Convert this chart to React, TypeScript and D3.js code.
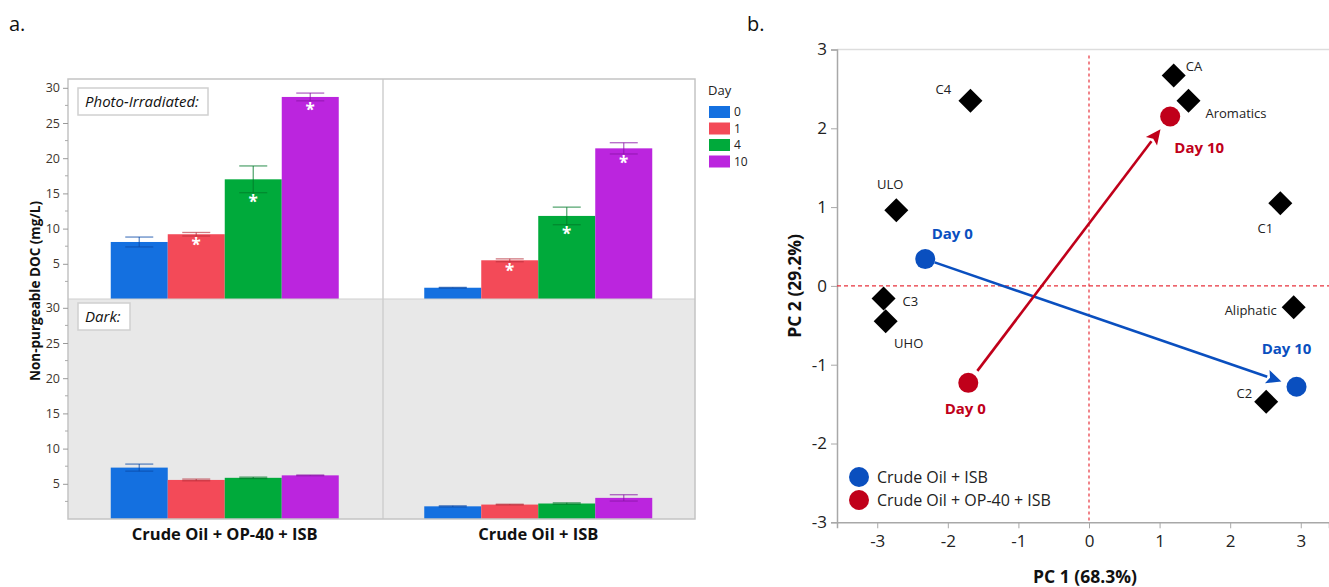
import React, { useEffect, useRef } from 'react';
import * as d3 from 'd3';

// panel a: bar chart data
const categories = ['Crude Oil + OP-40 + ISB', 'Crude Oil + ISB'];
const days = ['0', '1', '4', '10'];
const lightMeanOP40 = [8.1, 9.2, 17.0, 28.7];
const lightMeanISB = [1.6, 5.5, 11.8, 21.4];
const lightErrOP40 = [0.7, 0.25, 1.9, 0.55];
const lightErrISB = [0.05, 0.2, 1.25, 0.8];
const darkMeanOP40 = [7.3, 5.55, 5.85, 6.2];
const darkMeanISB = [1.8, 2.05, 2.2, 3.0];
const darkErrOP40 = [0.5, 0.12, 0.1, 0.05];
const darkErrISB = [0.08, 0.05, 0.1, 0.45];
const lightSignificant = [false, true, true, true];
const yTicksBar = [5, 10, 15, 20, 25, 30];

// panel b: PCA data
const loadingNames = ['C4', 'ULO', 'C3', 'UHO', 'CA', 'Aromatics', 'C1', 'Aliphatic', 'C2'];
const loadingPC1 = [-1.68, -2.73, -2.91, -2.88, 1.2, 1.41, 2.71, 2.9, 2.51];
const loadingPC2 = [2.35, 0.96, -0.16, -0.45, 2.67, 2.35, 1.05, -0.27, -1.47];
const treatments = ['Crude Oil + ISB', 'Crude Oil + OP-40 + ISB'];
const day0PC1 = [-2.32, -1.71];
const day0PC2 = [0.34, -1.23];
const day10PC1 = [2.94, 1.15];
const day10PC2 = [-1.28, 2.15];
const pcaTicks = [-3, -2, -1, 0, 1, 2, 3];

const dayColors = ['#1470e0', '#f34a58', '#00aa3b', '#bb25de'];
const dayDark = ['#0b4aa8', '#b8303c', '#007a2a', '#8a14a8'];
const treatColors = ['#0a4fbf', '#c0001a'];
const FONT = '"Open Sans", "Noto Sans", sans-serif';

// label offsets for the loadings [dx, dy, anchor]
const loadLabelPos: [number, number, string][] = [
  [-27, -11, 'middle'], [-6, -26, 'middle'], [19, 3, 'start'], [23, 22, 'middle'],
  [12, -9, 'start'], [17, 13, 'start'], [-15, 25, 'middle'], [-17, 3, 'end'], [-14, -8, 'end'],
];
const dayLabelPos = [[[27, -25], [-10, -38]], [[-3, 26], [29, 31]]];

export default function App() {
  const ref = useRef<SVGSVGElement>(null);

  useEffect(() => {
    const svg = d3.select(ref.current);
    svg.selectAll('*').remove();
    svg.style('font-family', FONT);

    svg.append('text').attr('x', 9).attr('y', 31).attr('font-size', 20).attr('fill', '#111').text('a.');
    svg.append('text').attr('x', 747).attr('y', 31).attr('font-size', 20).attr('fill', '#111').text('b.');

    /* ---------- panel a ---------- */
    const left = 68, right = 695, top = 79, mid = 299, bottom = 519;
    const x0 = d3.scaleBand().domain(categories).range([left, right]);
    const x1 = d3.scaleBand().domain(days).range([0, x0.bandwidth()]).paddingInner(0).paddingOuter(0.75);
    const yTop = d3.scaleLinear().domain([0, 31.25]).range([mid, top]);
    const yBot = d3.scaleLinear().domain([0, 31.25]).range([bottom, mid]);

    const ga = svg.append('g');
    ga.append('rect').attr('x', left).attr('y', top).attr('width', right - left).attr('height', mid - top).attr('fill', '#fff');
    ga.append('rect').attr('x', left).attr('y', mid).attr('width', right - left).attr('height', bottom - mid).attr('fill', '#e8e8e8');

    const panels = [
      { y: yTop, means: [lightMeanOP40, lightMeanISB], errs: [lightErrOP40, lightErrISB], sig: true },
      { y: yBot, means: [darkMeanOP40, darkMeanISB], errs: [darkErrOP40, darkErrISB], sig: false },
    ];

    panels.forEach((p) => {
      categories.forEach((c, ci) => {
        days.forEach((d, di) => {
          const v = p.means[ci][di];
          const e = p.errs[ci][di];
          const bx = (x0(c) as number) + (x1(d) as number);
          const bw = x1.bandwidth();
          ga.append('rect').attr('x', bx).attr('y', p.y(v)).attr('width', bw)
            .attr('height', p.y(0) - p.y(v)).attr('fill', dayColors[di]);
          const cx = bx + bw / 2;
          const eb = ga.append('g').attr('stroke', dayDark[di]).attr('stroke-opacity', 0.65).attr('stroke-width', 1.3);
          eb.append('line').attr('x1', cx).attr('x2', cx).attr('y1', p.y(v - e)).attr('y2', p.y(v + e));
          [v - e, v + e].forEach((t) => {
            eb.append('line').attr('x1', cx - 14).attr('x2', cx + 14).attr('y1', p.y(t)).attr('y2', p.y(t));
          });
          if (p.sig && lightSignificant[di]) {
            ga.append('text').attr('x', cx).attr('y', p.y(v - e) + 15).attr('text-anchor', 'middle')
              .attr('font-size', 17).attr('font-weight', 'bold').attr('fill', '#fff').text('*');
          }
        });
      });
    });

    // frames
    ga.append('line').attr('x1', 383).attr('x2', 383).attr('y1', top).attr('y2', bottom).attr('stroke', '#cfcfcf').attr('stroke-width', 1.5);
    ga.append('line').attr('x1', left).attr('x2', right).attr('y1', mid).attr('y2', mid).attr('stroke', '#cfcfcf').attr('stroke-width', 1);
    ga.append('rect').attr('x', left).attr('y', top).attr('width', right - left).attr('height', bottom - top)
      .attr('fill', 'none').attr('stroke', '#c4c4c4').attr('stroke-width', 1.5);

    // label boxes
    [[top + 9, 'Photo-Irradiated:', 130], [mid + 4, 'Dark:', 52]].forEach(([yy, txt, w]) => {
      ga.append('rect').attr('x', 78).attr('y', yy as number).attr('width', w as number).attr('height', 27)
        .attr('fill', '#fff').attr('stroke', '#d0d0d0').attr('stroke-width', 1.5);
      ga.append('text').attr('x', 85).attr('y', (yy as number) + 19).attr('font-size', 15).attr('font-style', 'italic')
        .attr('fill', '#111').text(txt as string);
    });

    // y axes
    [yTop, yBot].forEach((ys) => {
      const ax = ga.append('g').attr('transform', `translate(${left},0)`)
        .call(d3.axisLeft(ys).tickValues(yTicksBar).tickSize(5).tickPadding(3));
      ax.select('.domain').remove();
      ax.selectAll('line').attr('stroke', '#999');
      ax.selectAll('text').attr('font-size', 12.5).attr('fill', '#40352c').attr('font-family', FONT);
      const minor = d3.range(2.5, 31, 2.5).filter((t) => t % 5 !== 0);
      minor.forEach((t) => {
        ga.append('line').attr('x1', left - 3).attr('x2', left).attr('y1', ys(t)).attr('y2', ys(t)).attr('stroke', '#aaa');
      });
    });

    ga.append('text').attr('transform', `translate(40,291) rotate(-90)`).attr('text-anchor', 'middle')
      .attr('font-size', 13.5).attr('font-weight', 'bold').attr('fill', '#111').text('Non-purgeable DOC (mg/L)');

    categories.forEach((c) => {
      ga.append('text').attr('x', (x0(c) as number) + x0.bandwidth() / 2).attr('y', 540).attr('text-anchor', 'middle')
        .attr('font-size', 16.5).attr('font-weight', 'bold').attr('fill', '#111').text(c);
    });

    // legend
    ga.append('text').attr('x', 708).attr('y', 95).attr('font-size', 13).attr('fill', '#222').text('Day');
    days.forEach((d, i) => {
      const yy = 106 + i * 16.5;
      ga.append('rect').attr('x', 709).attr('y', yy).attr('width', 21).attr('height', 12).attr('fill', dayColors[i]);
      ga.append('text').attr('x', 734).attr('y', yy + 6).attr('dy', '0.36em').attr('font-size', 12).attr('fill', '#222').text(d);
    });

    /* ---------- panel b ---------- */
    const px = d3.scaleLinear().domain([-3.57, 3.4]).range([837, 1329]);
    const py = d3.scaleLinear().domain([-3, 3]).range([522.3, 49.5]);
    const gb = svg.append('g');

    gb.append('line').attr('x1', 837).attr('x2', 1329).attr('y1', 49.5).attr('y2', 49.5).attr('stroke', '#ddd').attr('stroke-width', 1.5);

    const fmt = (d: d3.NumberValue) => String(d);
    const xAx = gb.append('g').attr('transform', `translate(0,${py(-3)})`)
      .call(d3.axisBottom(px).tickValues(pcaTicks).tickSize(6).tickPadding(7).tickFormat(fmt));
    const yAx = gb.append('g').attr('transform', `translate(${px.range()[0]},0)`)
      .call(d3.axisLeft(py).tickValues(pcaTicks).tickSize(6).tickPadding(4).tickFormat(fmt));
    [xAx, yAx].forEach((ax) => {
      ax.select('.domain').attr('stroke', '#a8a8a8').attr('stroke-width', 1.5);
      ax.selectAll('line').attr('stroke', '#a8a8a8');
      ax.selectAll('text').attr('font-size', 17).attr('fill', '#222').attr('font-family', FONT);
    });

    // reference lines
    gb.append('line').attr('x1', px(0)).attr('x2', px(0)).attr('y1', py(3) + 6).attr('y2', py(-3))
      .attr('stroke', '#e8323c').attr('stroke-width', 1.2).attr('stroke-dasharray', '3,3');
    gb.append('line').attr('x1', px.range()[0]).attr('x2', 1329).attr('y1', py(0)).attr('y2', py(0))
      .attr('stroke', '#e8323c').attr('stroke-width', 1.2).attr('stroke-dasharray', '4,3');

    gb.append('text').attr('x', 1085).attr('y', 583).attr('text-anchor', 'middle').attr('font-size', 17.5)
      .attr('font-weight', 'bold').attr('fill', '#111').text('PC 1 (68.3%)');
    gb.append('text').attr('transform', `translate(801,${py(0)}) rotate(-90)`).attr('text-anchor', 'middle')
      .attr('font-size', 17.5).attr('font-weight', 'bold').attr('fill', '#111').text('PC 2 (29.2%)');

    // loadings
    loadingNames.forEach((n, i) => {
      const cx = px(loadingPC1[i]), cy = py(loadingPC2[i]);
      const s = 12;
      gb.append('path').attr('d', `M${cx},${cy - s}L${cx + s},${cy}L${cx},${cy + s}L${cx - s},${cy}Z`).attr('fill', '#000');
      const [dx, dy, anc] = loadLabelPos[i];
      gb.append('text').attr('x', cx + dx).attr('y', cy + dy).attr('dy', '0.35em').attr('text-anchor', anc)
        .attr('font-size', 13).attr('fill', '#222').text(n);
    });

    // trajectories
    treatments.forEach((t, i) => {
      const x0p = px(day0PC1[i]), y0p = py(day0PC2[i]);
      const x1p = px(day10PC1[i]), y1p = py(day10PC2[i]);
      const ang = Math.atan2(y1p - y0p, x1p - x0p);
      const startOff = i === 0 ? 10 : 15;
      const sx = x0p + Math.cos(ang) * startOff, sy = y0p + Math.sin(ang) * startOff;
      const tx = x1p - Math.cos(ang) * 16, ty = y1p - Math.sin(ang) * 16;
      const hl = 15, hw = 7;
      const bx = tx - Math.cos(ang) * hl, by = ty - Math.sin(ang) * hl;
      gb.append('line').attr('x1', sx).attr('y1', sy).attr('x2', bx).attr('y2', by)
        .attr('stroke', treatColors[i]).attr('stroke-width', 2.6);
      const nx = -Math.sin(ang) * hw, ny = Math.cos(ang) * hw;
      gb.append('path').attr('d', `M${tx},${ty}L${bx + nx},${by + ny}L${bx + Math.cos(ang) * 3},${by + Math.sin(ang) * 3}L${bx - nx},${by - ny}Z`)
        .attr('fill', treatColors[i]);
      [[x0p, y0p, 'Day 0'], [x1p, y1p, 'Day 10']].forEach(([cx, cy, lab], k) => {
        gb.append('circle').attr('cx', cx as number).attr('cy', cy as number).attr('r', 10).attr('fill', treatColors[i]);
        const [dx, dy] = dayLabelPos[i][k];
        gb.append('text').attr('x', (cx as number) + dx).attr('y', (cy as number) + dy).attr('dy', '0.35em')
          .attr('text-anchor', 'middle').attr('font-size', 15).attr('font-weight', 'bold').attr('fill', treatColors[i])
          .text(lab as string);
      });
    });

    // legend
    treatments.forEach((t, i) => {
      const yy = 477 + i * 23;
      gb.append('circle').attr('cx', 859).attr('cy', yy).attr('r', 10).attr('fill', treatColors[i]);
      gb.append('text').attr('x', 877).attr('y', yy).attr('dy', '0.35em').attr('font-size', 16).attr('fill', '#222').text(t);
    });
  }, []);

  return (
    <svg ref={ref} width={1329} height={587} style={{ position: 'absolute', left: 0, top: 0, background: '#fff' }} />
  );
}
